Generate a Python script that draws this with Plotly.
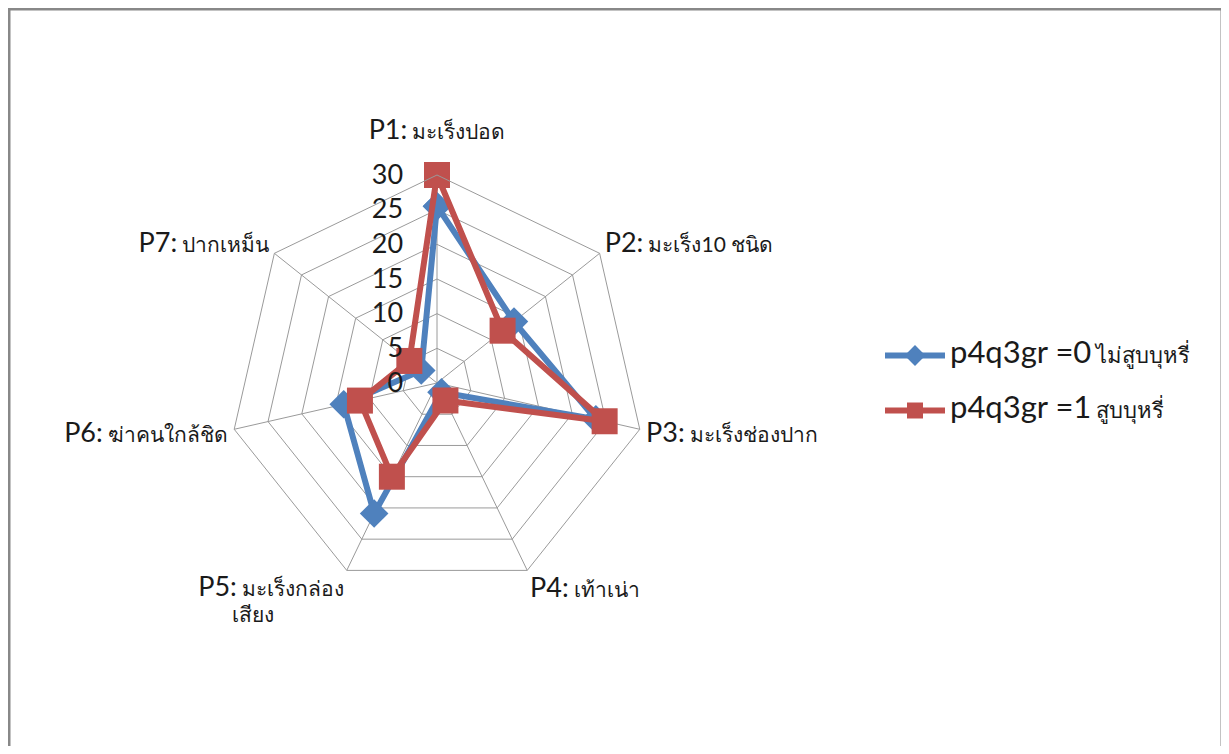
import plotly.graph_objects as go

categories = ["P1", "P2", "P3", "P4", "P5", "P6", "P7"]
cat_labels = [
    "P1: มะเร็งปอด",
    "P2: มะเร็ง10 ชนิด",
    "P3: มะเร็งช่องปาก",
    "P4: เท้าเน่า",
    "P5: มะเร็งกล่อง|เสียง",
    "P6: ฆ่าคนใกล้ชิด",
    "P7: ปากเหม็น",
]
series0_name = ("p4q3gr =0", "ไม่สูบบุหรี่")
series1_name = ("p4q3gr =1", "สูบบุหรี่")
series0 = [25.5, 14.2, 23.5, 1.5, 20.9, 13.8, 2.9]
series1 = [30.0, 12.1, 24.8, 2.8, 15.0, 11.4, 5.1]
radial_ticks = [0, 5, 10, 15, 20, 25, 30]

BLUE = "#4F81BD"
RED = "#C0504D"
FONT = "Lato, Open Sans, Noto Sans, DejaVu Sans, sans-serif"
NB = "\u00a0"


def fmt_label(s, i):
    head, rest = s.split(": ", 1)
    parts = rest.split("|")
    out = f"<span style='font-size:27px'>{head}:</span> <span style='font-size:21px'>{parts[0]}</span>"
    for p in parts[1:]:
        out += f"<br><span style='font-size:21px'>{p}{NB * 13}</span>"
    if i == 0:
        out += "<br> "
    return out


def fmt_name(n):
    return f"<span style='font-size:31px'>{n[0]}</span> <span style='font-size:22px'>{n[1]}</span>"


theta = categories + [categories[0]]
fig = go.Figure()
fig.add_trace(go.Scatterpolar(
    r=series0 + [series0[0]], theta=theta, mode="lines+markers",
    name=fmt_name(series0_name), legendgroup="g0",
    line=dict(color=BLUE, width=6),
    marker=dict(symbol="diamond", size=22, color=BLUE),
))
fig.add_trace(go.Scatterpolar(
    r=series1 + [series1[0]], theta=theta, mode="lines+markers",
    name=fmt_name(series1_name), legendgroup="g1",
    line=dict(color=RED, width=6),
    marker=dict(symbol="square", size=26, color=RED),
))

# page body has an 8px margin; work in figure coordinates
OFF = 8
W, H = 1229 - 2 * OFF, 754 - 2 * OFF
cx, cy, R = 437 - OFF, 383 - OFF, 208
fig.update_layout(
    width=W, height=H,
    margin=dict(l=0, r=0, t=0, b=0),
    paper_bgcolor="white",
    font=dict(family=FONT, color="#1a1a1a", size=20),
    polar=dict(
        domain=dict(x=[(cx - R) / W, (cx + R) / W], y=[(H - cy - R) / H, (H - cy + R) / H]),
        gridshape="linear",
        bgcolor="white",
        radialaxis=dict(
            range=[0, 30], tickvals=radial_ticks, angle=90, tickangle=90,
            side="counterclockwise",
            showline=False, gridcolor="#9a9a9a", gridwidth=1,
            tickfont=dict(size=27, color="#1a1a1a"),
            ticks="outside", ticklen=24, tickcolor="rgba(0,0,0,0)",
        ),
        angularaxis=dict(
            direction="clockwise", rotation=90,
            tickvals=categories, ticktext=[fmt_label(c, i) for i, c in enumerate(cat_labels)],
            gridcolor="#9a9a9a", linecolor="#9a9a9a", linewidth=1,
            ticks="outside", ticklen=2, tickcolor="rgba(0,0,0,0)", showline=True,
        ),
    ),
    legend=dict(x=(880 - OFF) / W, y=1 - (383 - OFF) / H, xanchor="left", yanchor="middle",
                traceorder="grouped", tracegroupgap=26, itemwidth=60,
                bgcolor="rgba(0,0,0,0)"),
    shapes=[dict(type="rect", xref="paper", yref="paper", x0=1 / W, x1=(1222 - OFF) / W,
                 y0=-0.05, y1=1 - 1 / H, line=dict(color="#888888", width=3))],
)

fig.write_html("out.html")
